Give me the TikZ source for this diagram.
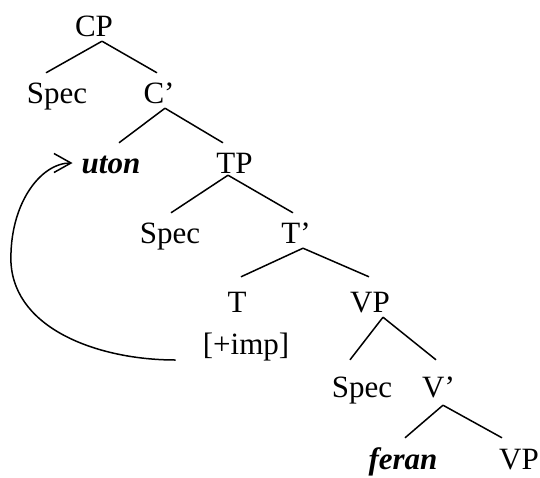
\documentclass[tikz,border=0pt]{standalone}
\usepackage{fontspec}
\setmainfont{Liberation Serif}
\usetikzlibrary{arrows.meta}
\begin{document}
\begin{tikzpicture}[x=1pt,y=-1pt,
  lab/.style={font=\fontsize{31}{31}\selectfont, inner sep=0pt, text height=30pt, text depth=5pt, anchor=base},
  emph/.style={lab, font=\fontsize{31}{31}\selectfont\bfseries\itshape},
  low/.style={text depth=0pt},
  br/.style={line width=1.5pt},
  mv/.style={line width=1.5pt, -{Straight Barb[length=17pt,width=19pt,line width=1.5pt]}}]
\useasboundingbox (0,0) rectangle (540,477);
\node[lab] (cp) at (94,36) {CP};
\node[lab] (spec1) at (57,103) {Spec};
\node[lab] (c1) at (159,103) {C’};
\node[emph] (uton) at (111,173) {uton};
\node[lab] (tp) at (234.5,173) {TP};
\node[lab] (spec2) at (170,243) {Spec};
\node[lab] (t1) at (296,243) {T’};
\node[lab] (t) at (237,312) {T};
\node[lab] (vp1) at (370,312) {VP};
\node[lab] (imp) at (246,354) {[+imp]};
\node[lab] (spec3) at (362,397) {Spec};
\node[lab] (v1) at (438.5,397) {V’};
\node[emph,low] (feran) at (403,469) {feran};
\node[lab,low] (vp2) at (519,469) {VP};
\draw[br] ([xshift=8pt]cp.south) -- ([xshift=-11pt]spec1.north);
\draw[br] ([xshift=8pt]cp.south) -- ([xshift=-2pt]c1.north);
\draw[br] ([xshift=6pt]c1.south) -- ([xshift=8pt]uton.north);
\draw[br] ([xshift=6pt]c1.south) -- ([xshift=-11.5pt]tp.north);
\draw[br] ([xshift=-6.5pt,yshift=3pt]tp.south) -- ([xshift=1pt]spec2.north);
\draw[br] ([xshift=-6.5pt,yshift=3pt]tp.south) -- ([xshift=-3pt]t1.north);
\draw[br] ([xshift=7pt]t1.south) -- ([xshift=4pt,yshift=5pt]t.north);
\draw[br] ([xshift=7pt]t1.south) -- ([xshift=-1pt,yshift=5pt]vp1.north);
\draw[br] ([xshift=13pt]vp1.south) -- ([xshift=-12pt,yshift=7pt]spec3.north);
\draw[br] ([xshift=13pt]vp1.south) -- ([xshift=-2.5pt,yshift=7pt]v1.north);
\draw[br] ([xshift=4.5pt,yshift=-3pt]v1.south) -- ([xshift=2pt,yshift=1pt]feran.north);
\draw[br] ([xshift=4.5pt,yshift=-3pt]v1.south) -- ([xshift=-17pt,yshift=1pt]vp2.north);
\coordinate (src) at ([xshift=-27pt,yshift=-6pt]imp.base west);
\draw[mv] (src) .. controls (100,360) and (15,330) .. (11,263)
  .. controls (9,205) and (40,163) .. ([xshift=-9pt,yshift=-2.5pt]uton.west);
\end{tikzpicture}
\end{document}
